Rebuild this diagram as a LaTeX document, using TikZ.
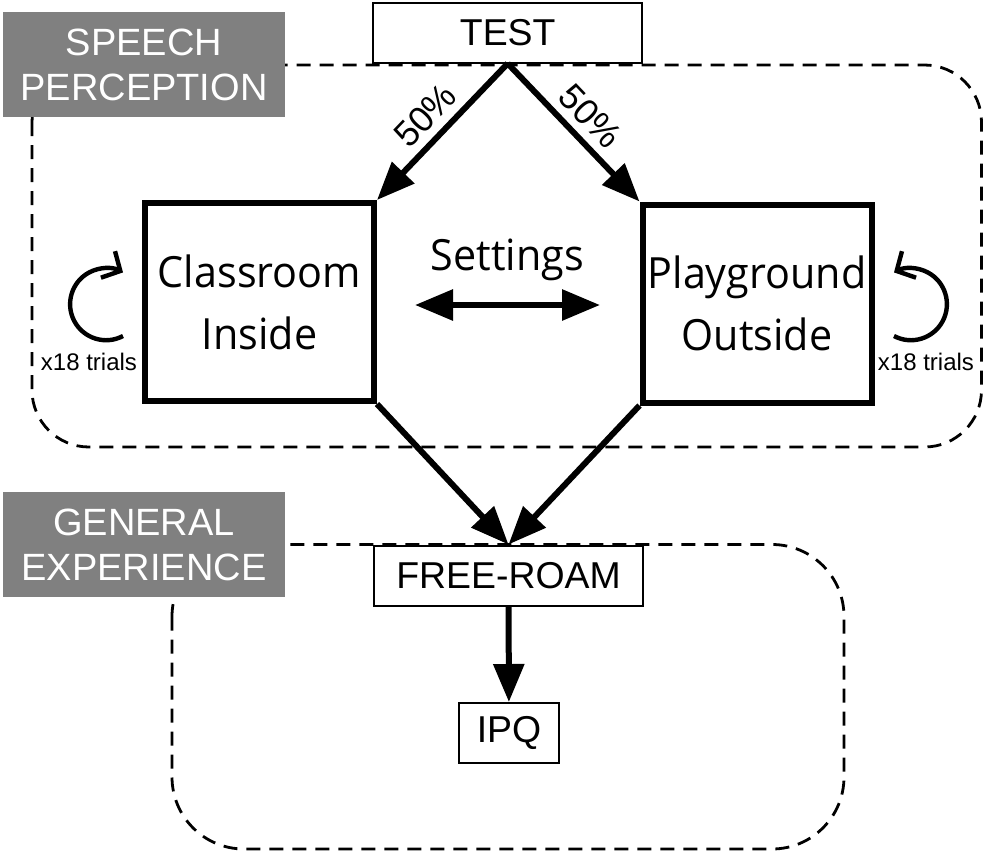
\documentclass[tikz,border=0pt]{standalone}
\usepackage{fontspec}
\setmainfont{Liberation Sans}
\newfontfamily\roomfont[FakeStretch=0.96]{Open Sans}
\usetikzlibrary{arrows.meta}

\begin{document}
\begin{tikzpicture}[
        x=0.5pt, y=0.5pt,
        region/.style={draw, line width=1.4pt, dash pattern=on 7pt off 4.5pt},
        phase/.style={fill=gray, text=white, minimum width=141pt, minimum height=52.5pt,
                inner sep=0pt, align=center, font=\fontsize{19}{22.5}\selectfont},
        stepbox/.style={draw, fill=white, line width=1pt, minimum height=30pt,
                inner sep=0pt, font=\fontsize{18.7}{22}\selectfont},
        room/.style={draw, fill=white, line width=3pt, minimum width=114.5pt, minimum height=99pt,
                inner sep=0pt, align=center, font=\roomfont\fontsize{21.5}{31}\selectfont},
        flow/.style={line width=3pt, -{Triangle[length=19pt,width=15pt]}},
        repeat/.style={line width=2.2pt, -{Straight Barb[length=7pt,width=15pt]}},
        pct/.style={sloped, above, inner sep=4pt, font=\fontsize{18}{20}\selectfont},
        trials/.style={anchor=base, font=\fontsize{12}{14}\selectfont}
    ]
    \useasboundingbox (0,0) rectangle (986,-852);

    % dashed blocks
    \draw[region, rounded corners=28.5pt] (32,-65) rectangle (981.5,-447);
    \draw[region, rounded corners=36pt] (172,-544.5) rectangle (844,-849);

    \node[phase] (speech) at (144,-64.5) {SPEECH\\PERCEPTION};
    \node[phase] (general) at (144,-544.5) {GENERAL\\EXPERIENCE};

    \node[stepbox, minimum width=134.75pt] (test) at (507.7,-32.5) {TEST};
    \node[room] (cls) at (259.5,-302) {Classroom\\Inside};
    \node[room] (play) at (757,-303.5) {Playground\\Outside};
    \node[stepbox, minimum width=134.5pt] (roam) at (508.5,-575.5) {FREE-ROAM};
    \node[stepbox, minimum width=50pt] (ipq) at (509,-733) {IPQ};

    % switching between settings
    \node[anchor=base, font=\roomfont\fontsize{21.5}{25}\selectfont] (settings) at (507.5,-270) {Settings};
    \coordinate (inL) at (415,-305);
    \coordinate (outR) at (600,-305);
    \draw[line width=3pt, {Triangle[length=19pt,width=15pt]}-{Triangle[length=19pt,width=15pt]}] (inL) -- (outR);

    \draw[flow] (test.south) -- node[pct] {50\%} (cls.north east);
    \draw[flow] (test.south) -- node[pct] {50\%} (play.north west);
    \draw[flow] (cls.south east) -- (roam.north);
    \draw[flow] (play.south west) -- (roam.north);
    \draw[flow] (roam) -- (ipq);

    % repeated trials
    \draw[repeat] ([shift={(-19,-34)}]cls.west) arc[start angle=-62, end angle=-298, radius=18pt];
    \draw[repeat] ([shift={(19.5,-32.5)}]play.east) arc[start angle=-118, end angle=118, radius=18pt];
    \node[trials] (trialsL) at (89,-370) {x18 trials};
    \node[trials] (trialsR) at (926,-370) {x18 trials};
\end{tikzpicture}
\end{document}
